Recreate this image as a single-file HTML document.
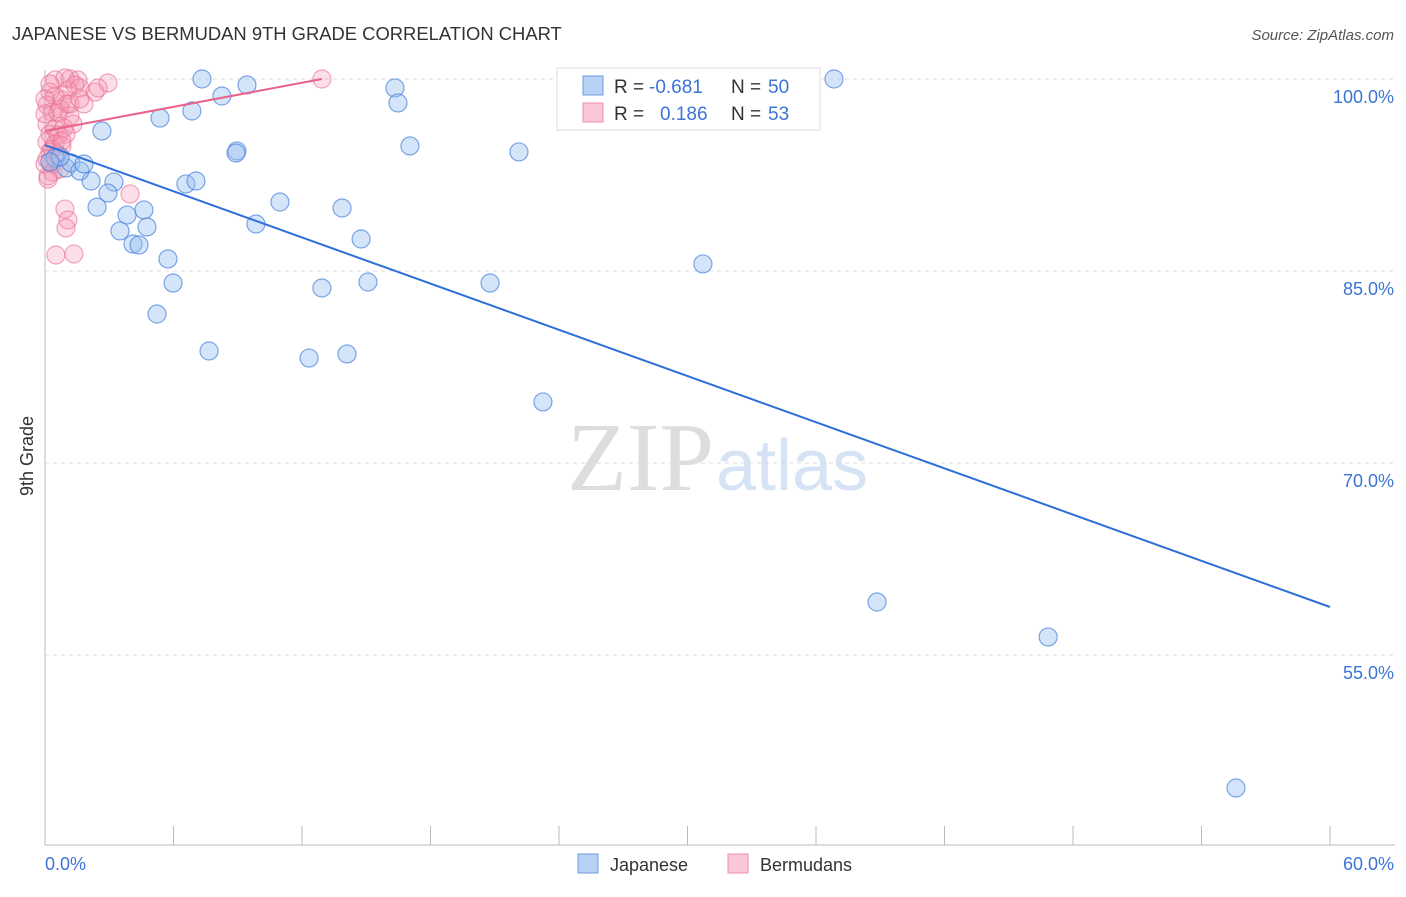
<!DOCTYPE html>
<html><head><meta charset="utf-8"><style>
body{margin:0;background:#fff;font-family:"Liberation Sans",sans-serif;}
svg text{font-family:"Liberation Sans",sans-serif;}
</style></head><body>
<svg width="1406" height="892">
<text x="12" y="40" font-size="18.4" fill="#333">JAPANESE VS BERMUDAN 9TH GRADE CORRELATION CHART</text>
<text x="1394" y="40" font-size="15" fill="#555" font-style="italic" text-anchor="end">Source: ZipAtlas.com</text>
<text x="714" y="490" font-size="98" fill="#ddd" text-anchor="end" font-family="Liberation Serif" style="font-family:'Liberation Serif',serif">ZIP</text>
<text x="716" y="490" font-size="72" fill="#d6e3f5">atlas</text>
<g id="grid"></g>
<g id="axes"></g>
<g id="pts"></g>
<g id="lines"></g>
<text transform="translate(33,456) rotate(-90)" font-size="18" fill="#333" text-anchor="middle">9th Grade</text>
<text x="45" y="870" font-size="18" fill="#3b74d6">0.0%</text>
<text x="1394" y="870" font-size="18" fill="#3b74d6" text-anchor="end">60.0%</text>
<g>
<rect x="557" y="68" width="263" height="62" fill="#fff" stroke="#ddd"/>
<rect x="583" y="76" width="20" height="19" fill="#b8d2f5" stroke="#6d9be0"/>
<rect x="583" y="103" width="20" height="19" fill="#f9c7d5" stroke="#ee8fab"/>
<text x="614" y="93" font-size="19" fill="#333">R = </text><text x="649" y="93" font-size="19" fill="#3b74d6">-0.681</text>
<text x="731" y="93" font-size="19" fill="#333">N = </text><text x="768" y="93" font-size="19" fill="#3b74d6">50</text>
<text x="614" y="120" font-size="19" fill="#333">R = </text><text x="660" y="120" font-size="19" fill="#3b74d6">0.186</text>
<text x="731" y="120" font-size="19" fill="#333">N = </text><text x="768" y="120" font-size="19" fill="#3b74d6">53</text>
</g>
<g>
<rect x="578" y="854" width="20" height="19" fill="#b8d2f5" stroke="#6d9be0"/>
<text x="610" y="871" font-size="18" fill="#333">Japanese</text>
<rect x="728" y="854" width="20" height="19" fill="#f9c7d5" stroke="#ee8fab"/>
<text x="760" y="871" font-size="18" fill="#333">Bermudans</text>
</g>
</svg>
<script>
const yTicks=[100,85,70,55];
const yTickLabels=["100.0%","85.0%","70.0%","55.0%"];
const xTicks=[0,6,12,18,24,30,36,42,48,54,60];
const japX=[7.33,9.43,8.26,5.37,6.86,2.66,8.96,8.92,16.34,16.48,17.04,22.13,36.84,6.58,7.05,3.22,2.15,2.94,2.43,3.83,4.62,10.97,13.87,9.85,4.76,3.5,4.11,4.39,14.76,5.74,5.98,12.93,15.08,20.78,30.72,5.23,7.66,12.33,14.1,23.25,38.85,46.84,55.61,0.47,0.98,1.21,1.63,1.82,0.7,0.23];
const japY=[100,99.53,98.67,96.95,97.5,95.94,94.38,94.22,99.3,98.13,94.77,94.3,100,91.8,92.03,91.95,92.03,91.09,89.99,89.37,89.77,90.39,89.92,88.67,88.44,88.13,87.11,87.03,87.5,85.94,84.06,83.67,84.14,84.06,85.55,81.64,78.75,78.2,78.52,74.77,59.14,56.41,44.61,93.83,93.05,93.44,92.81,93.36,93.91,93.52];
const berX=[0.47,1.17,1.54,2.94,1.63,1.07,2.33,0.23,0.47,0.79,0.09,1.03,1.82,0.33,0.61,1.17,0.09,0.47,0.89,1.31,0.23,0.61,0.98,0.09,0.47,0.79,0.23,0.56,0.09,0.33,0.14,0.37,0.7,3.97,0.93,1.07,0.98,0.51,1.35,12.93,2.48,0.93,1.4,0.23,0,0.7,0,0.33,0,1.17,1.63,0.14,0.79];
const berY=[99.92,100,99.92,99.69,99.3,99.14,98.98,98.98,98.67,98.36,97.97,98.05,98.05,97.42,97.34,97.11,96.48,96.09,96.17,96.48,95.7,95.62,95.7,95.08,94.92,94.77,94.3,94.14,93.75,93.36,92.42,92.73,92.97,91.02,89.84,88.98,88.36,86.25,86.33,100,99.3,100.08,99.53,99.61,98.44,97.66,97.27,94.53,93.36,98.05,98.44,92.19,95.16];
const trendJap=[[0,94.84],[60,58.75]];
const trendBer=[[0,95.94],[12.93,100]];
const NS='http://www.w3.org/2000/svg';
const X=v=>45+v*(1285/60), Y=v=>79+(100-v)*12.8;
function mk(tag,attrs,parent){const e=document.createElementNS(NS,tag);for(const k in attrs)e.setAttribute(k,attrs[k]);parent.appendChild(e);return e;}
const grid=document.getElementById('grid'),axes=document.getElementById('axes'),pts=document.getElementById('pts'),lines=document.getElementById('lines');
yTicks.forEach((t,i)=>{
 const l=mk('line',{x1:45,x2:1395,y1:Y(t),y2:Y(t),stroke:'#ddd','stroke-dasharray':'4,4'},grid);
 
 
 const tx=mk('text',{x:1394,y:Y(t)+24,'font-size':18,fill:'#3b74d6','text-anchor':'end'},grid);
 tx.textContent=yTickLabels[i];
 
 
});
const ax=mk('line',{x1:45,x2:1395,y1:845,y2:845,stroke:'#bbb'},axes);


const ay=mk('line',{x1:45,x2:45,y1:70,y2:845,stroke:'#bbb'},axes);


xTicks.forEach(t=>{
 const l=mk('line',{x1:X(t),x2:X(t),y1:826,y2:845,stroke:'#bbb'},axes);
 
 
});
berX.forEach((v,i)=>{
 const c=mk('circle',{cx:X(v),cy:Y(berY[i]),r:9,fill:'rgba(244,150,178,0.3)',stroke:'rgba(232,110,145,0.6)','stroke-width':1.2},pts);
 
 
});
japX.forEach((v,i)=>{
 const c=mk('circle',{cx:X(v),cy:Y(japY[i]),r:9,fill:'rgba(150,190,240,0.4)',stroke:'rgba(70,130,220,0.7)','stroke-width':1.2},pts);
 
 
});
const lj=mk('line',{x1:X(trendJap[0][0]),y1:Y(trendJap[0][1]),x2:X(trendJap[1][0]),y2:Y(trendJap[1][1]),stroke:'#2e6fd8','stroke-width':2},lines);


const lb=mk('line',{x1:X(trendBer[0][0]),y1:Y(trendBer[0][1]),x2:X(trendBer[1][0]),y2:Y(trendBer[1][1]),stroke:'#e8628c','stroke-width':2},lines);


</script>
</body></html>
